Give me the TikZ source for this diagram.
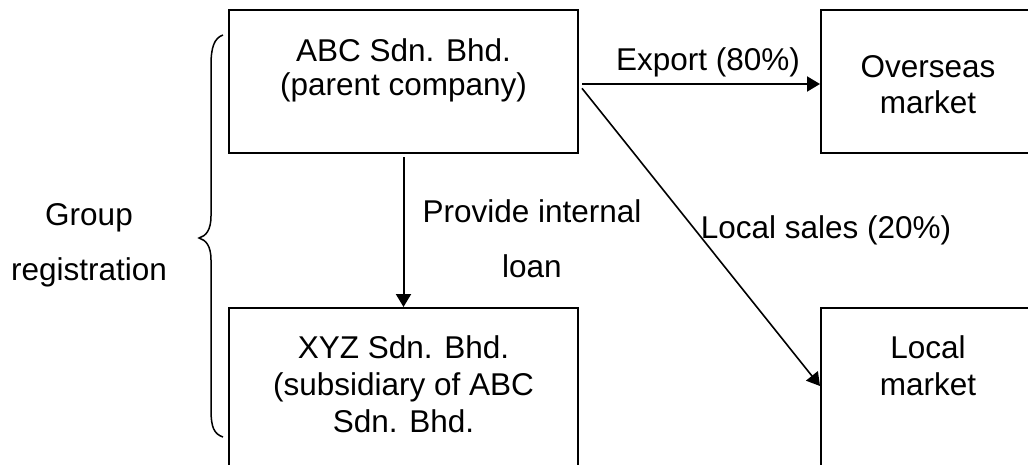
\documentclass[tikz,border=0pt]{standalone}
\usepackage{fontspec}
\setmainfont{Liberation Sans}
\usetikzlibrary{arrows.meta}
\begin{document}
\begin{tikzpicture}[x=1pt,y=-1pt,
  box/.style={draw,line width=2pt,rectangle,inner sep=0pt},
  txt/.style={inner sep=0pt,anchor=base,align=center,font=\fontsize{31.5}{#1}\selectfont},
  txt/.default=36,
  arr/.style={line width=2pt,-{Triangle[length=13pt,width=15pt]}}]
\useasboundingbox (0,0) rectangle (1028,464);
\clip (0,0) rectangle (1028,464);
% boxes
\node[box,minimum width=349pt,minimum height=143pt] (abc) at (403.5,81.7) {};
\node[box,minimum width=349pt,minimum height=172pt] (xyz) at (403.5,394) {};
\node[box,minimum width=214pt,minimum height=143pt] (over) at (928,81.7) {};
\node[box,minimum width=214pt,minimum height=172pt] (loc) at (928,394) {};
% box texts (anchor = baseline of last line)
\node[txt=34.5] (abct) at (403.5,95.5) {ABC Sdn. Bhd.\\(parent company)};
\node[txt=37] (xyzt) at (403.5,432) {XYZ Sdn. Bhd.\\(subsidiary of ABC\\Sdn. Bhd.};
\node[txt=36] (overt) at (928,113) {Overseas\\market};
\node[txt=37] (loct) at (928,395) {Local\\market};
% labels
\node[txt=55] (grp) at (89,280) {Group\\registration};
\node[txt=55] (prov) at (532,277) {Provide internal\\loan};
\node[txt] (exp) at (708,70) {Export (80\%)};
\node[txt] (ls) at (826,238) {Local sales (20\%)};
% connectors
\coordinate (s1) at ([xshift=3pt,yshift=-2.3pt]abc.east);
\coordinate (s2) at ([xshift=3pt,yshift=-6.6pt]abc.east);
\coordinate (e2) at ([yshift=-79pt]loc.north west);
\draw[arr] (s1) -- (s1 -| over.west);
\draw[arr,line width=1.6pt] (s2) -- (e2);
\draw[arr] ([yshift=-3pt]abc.south) -- (xyz.north);
% brace
\coordinate (bt) at (223,35);
\coordinate (bm) at (199,238);
\coordinate (bb) at (223,437);
\draw[line width=1.5pt] (bt) .. controls (214,38) and (211,48) .. (211,65) -- (211,216)
  .. controls (211,230) and (206,236) .. (bm)
  .. controls (206,240) and (211,246) .. (211,260) -- (211,410)
  .. controls (211,427) and (214,434) .. (bb);
\end{tikzpicture}
\end{document}
